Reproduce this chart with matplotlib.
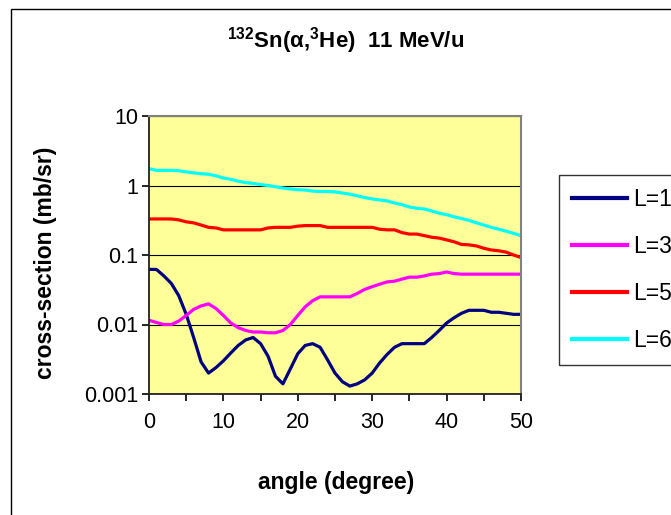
import numpy as np
import matplotlib
matplotlib.use('Agg')
import matplotlib.pyplot as plt
from matplotlib.ticker import FixedLocator, FuncFormatter, MultipleLocator
from matplotlib.patches import Rectangle

plt.rcParams['font.family'] = ['Liberation Sans', 'DejaVu Sans']
plt.rcParams['mathtext.fontset'] = 'custom'
plt.rcParams['mathtext.rm'] = 'Liberation Sans:bold'
plt.rcParams['mathtext.it'] = 'Liberation Sans:bold'
plt.rcParams['mathtext.bf'] = 'Liberation Sans:bold'

# angulo en grados, 0..50
angle = list(range(51))

L1 = [0.062, 0.062, 0.05, 0.039, 0.026, 0.014, 0.0065, 0.0029, 0.002, 0.0024,
      0.003, 0.0039, 0.005, 0.006, 0.0065, 0.0053, 0.0035, 0.0018, 0.0014, 0.0023,
      0.0038, 0.005, 0.0053, 0.0047, 0.0031, 0.002, 0.0015, 0.0013, 0.0014, 0.0016,
      0.002, 0.0028, 0.0037, 0.0047, 0.0053, 0.0053, 0.0053, 0.0053, 0.0065, 0.0082,
      0.0105, 0.0125, 0.0145, 0.016, 0.016, 0.016, 0.015, 0.015, 0.0145, 0.014,
      0.014]
L3 = [0.0115, 0.0107, 0.01, 0.01, 0.0112, 0.0135, 0.0165, 0.0185, 0.0198, 0.017,
      0.0135, 0.0105, 0.009, 0.0082, 0.0078, 0.0078, 0.0076, 0.0076, 0.0082, 0.01,
      0.0135, 0.018, 0.022, 0.025, 0.025, 0.025, 0.025, 0.025, 0.028, 0.032,
      0.035, 0.038, 0.041, 0.042, 0.045, 0.048, 0.048, 0.05, 0.053, 0.054,
      0.057, 0.054, 0.053, 0.053, 0.053, 0.053, 0.053, 0.053, 0.053, 0.053,
      0.053]
L5 = [0.33, 0.33, 0.33, 0.33, 0.32, 0.30, 0.29, 0.27, 0.25, 0.245,
      0.23, 0.23, 0.23, 0.23, 0.23, 0.23, 0.245, 0.25, 0.25, 0.25,
      0.26, 0.265, 0.265, 0.265, 0.25, 0.25, 0.25, 0.25, 0.25, 0.25,
      0.25, 0.235, 0.23, 0.23, 0.21, 0.2, 0.2, 0.19, 0.18, 0.175,
      0.165, 0.155, 0.142, 0.14, 0.135, 0.125, 0.118, 0.115, 0.11, 0.1,
      0.092]
L6 = [1.75, 1.65, 1.65, 1.65, 1.63, 1.57, 1.52, 1.48, 1.45, 1.38,
      1.28, 1.23, 1.15, 1.1, 1.07, 1.03, 1.0, 0.96, 0.92, 0.89,
      0.87, 0.86, 0.83, 0.82, 0.82, 0.81, 0.78, 0.75, 0.71, 0.67,
      0.64, 0.62, 0.6, 0.56, 0.53, 0.49, 0.47, 0.46, 0.43, 0.4,
      0.38, 0.355, 0.335, 0.315, 0.29, 0.27, 0.25, 0.235, 0.22, 0.205,
      0.19]

series = [('L=1', L1, '#000080'), ('L=3', L3, '#FF00FF'),
          ('L=5', L5, '#FF0000'), ('L=6', L6, '#00FFFF')]
yticks = [0.001, 0.01, 0.1, 1, 10]

fig = plt.figure(figsize=(6.71, 5.15), dpi=100)
ax = fig.add_axes([149/671, 1-394/515, 372/671, 278/515])
ax.set_facecolor('#FFFF99')

for lab, y, c in series:
    ax.plot(angle, y, color=c, lw=2.3, label=lab, solid_joinstyle='round')

ax.set_yscale('log')
ax.set_ylim(0.001, 10)
ax.set_xlim(0, 50)
ax.yaxis.set_major_locator(FixedLocator(yticks))
ax.yaxis.set_minor_locator(FixedLocator([]))
ax.yaxis.set_major_formatter(FuncFormatter(lambda v, p: '%g' % v))
ax.xaxis.set_major_locator(MultipleLocator(10))
ax.xaxis.set_minor_locator(MultipleLocator(5))
ax.grid(True, axis='y', which='major', color='black', lw=0.8)
ax.tick_params(which='both', direction='out', length=5, width=1.2,
               labelsize=15.5, pad=3)
ax.tick_params(axis='x', pad=8)

for s in ['top', 'right']:
    ax.spines[s].set_color('#808080')
    ax.spines[s].set_linewidth(1.5)
for s in ['left', 'bottom']:
    ax.spines[s].set_color('#222222')
    ax.spines[s].set_linewidth(1.3)

ax.set_xlabel('angle (degree)', fontsize=16.5, fontweight='bold')
ax.set_ylabel('cross-section (mb/sr)', fontsize=16.5, fontweight='bold')
ax.xaxis.set_label_coords(0.503, -0.277)
ax.yaxis.set_label_coords(-0.246, 0.471)

fig.text(346/671, 1-41/515, r'$^{132}$Sn($\alpha$,$^{3}$He)  11 MeV/u',
         ha='center', va='center', fontsize=16, fontweight='bold')

# marco del grafico
fig.patches.append(Rectangle((11/671, -0.1), 1.0, 1-9/515+0.1,
                             transform=fig.transFigure, fill=False,
                             edgecolor='black', lw=1))

leg = fig.legend(loc='upper left', bbox_to_anchor=(559/671, 1-175/515),
                 fontsize=16.5, frameon=True, fancybox=False, edgecolor='black',
                 handlelength=2.43, handletextpad=0.26, labelspacing=1.06,
                 borderpad=0.55, borderaxespad=0)
leg.get_frame().set_linewidth(1)
for l in leg.get_lines():
    l.set_linewidth(3)

plt.savefig('out.png', dpi=100)
